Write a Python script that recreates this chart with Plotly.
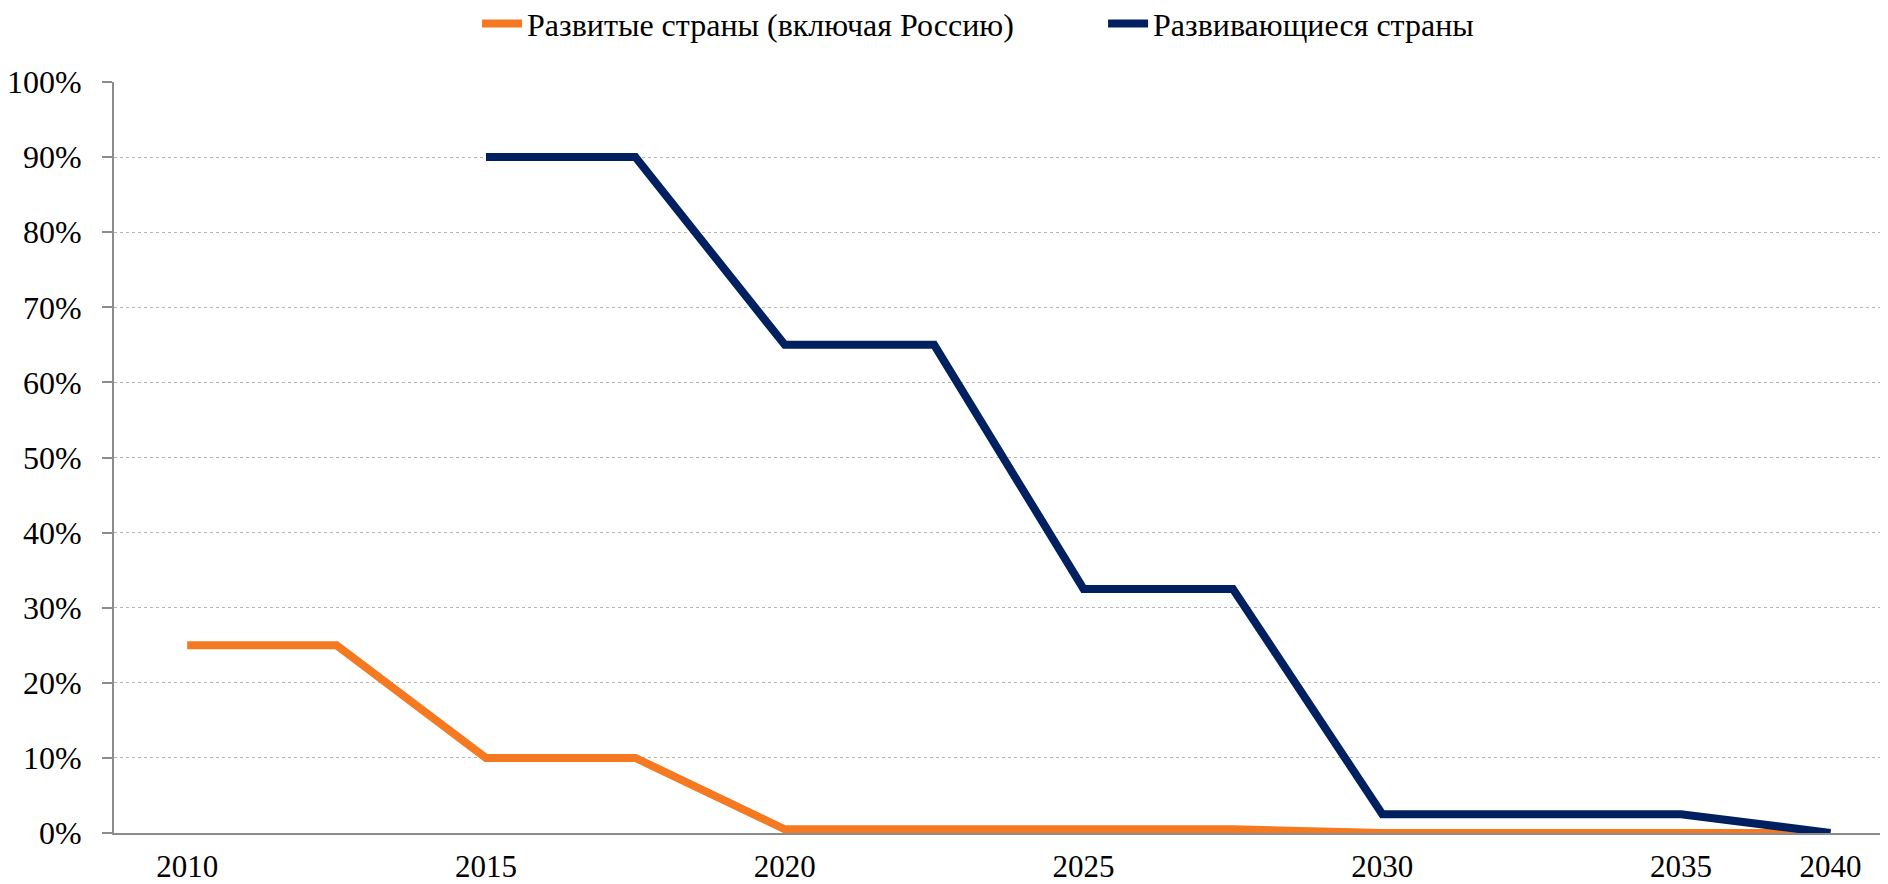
import plotly.graph_objects as go

# Data
x_labels = ["2010", "", "2015", "", "2020", "", "2025", "", "2030", "", "2035", "2040"]
developed = [0.25, 0.25, 0.10, 0.10, 0.005, 0.005, 0.005, 0.005, 0.0, 0.0, 0.0, 0.0]
developing = [None, None, 0.90, 0.90, 0.65, 0.65, 0.325, 0.325, 0.025, 0.025, 0.025, 0.0]
series_names = ["Развитые страны (включая Россию)", "Развивающиеся страны"]
y_ticks = [0, 0.1, 0.2, 0.3, 0.4, 0.5, 0.6, 0.7, 0.8, 0.9, 1.0]

x_pos = list(range(len(x_labels)))
FONT = "Liberation Serif"

fig = go.Figure()
fig.add_trace(go.Scatter(x=x_pos, y=developed, mode="lines", name=series_names[0],
                         line=dict(color="#F47920", width=8), connectgaps=False))
fig.add_trace(go.Scatter(x=x_pos, y=developing, mode="lines", name=series_names[1],
                         line=dict(color="#002060", width=8), connectgaps=False))

fig.update_layout(
    width=1880, height=876,
    margin=dict(l=106, r=0, t=74, b=51, autoexpand=False),
    paper_bgcolor="white", plot_bgcolor="white",
    font=dict(family=FONT, size=32, color="black"),
    showlegend=True,
    legend=dict(orientation="h", xref="container", yref="container",
                x=0.2495, xanchor="left", y=0.982, yanchor="middle",
                font=dict(family=FONT, size=32), itemwidth=40,
                entrywidth=571,
                bgcolor="rgba(0,0,0,0)"),
)
fig.update_xaxes(
    range=[-0.49, 11.385], tickmode="array", tickvals=x_pos, ticktext=x_labels,
    showgrid=False, zeroline=False, showline=True, linecolor="#8C8C8C", linewidth=2,
    ticks="", ticklabelstandoff=5, automargin=False, tickfont=dict(family=FONT, size=31),
)
fig.update_yaxes(
    range=[0, 1.0], tickmode="array", tickvals=y_ticks, tickformat=".0%",
    showgrid=True, gridcolor="#B4B4B4", griddash="dot", gridwidth=1,
    zeroline=False, showline=True, linecolor="#8C8C8C", linewidth=2,
    ticks="outside", ticklen=10, tickcolor="#8C8C8C", tickwidth=2,
    ticklabelstandoff=14, automargin=False, tickfont=dict(family=FONT, size=32),
)

fig.write_html("out.html")
